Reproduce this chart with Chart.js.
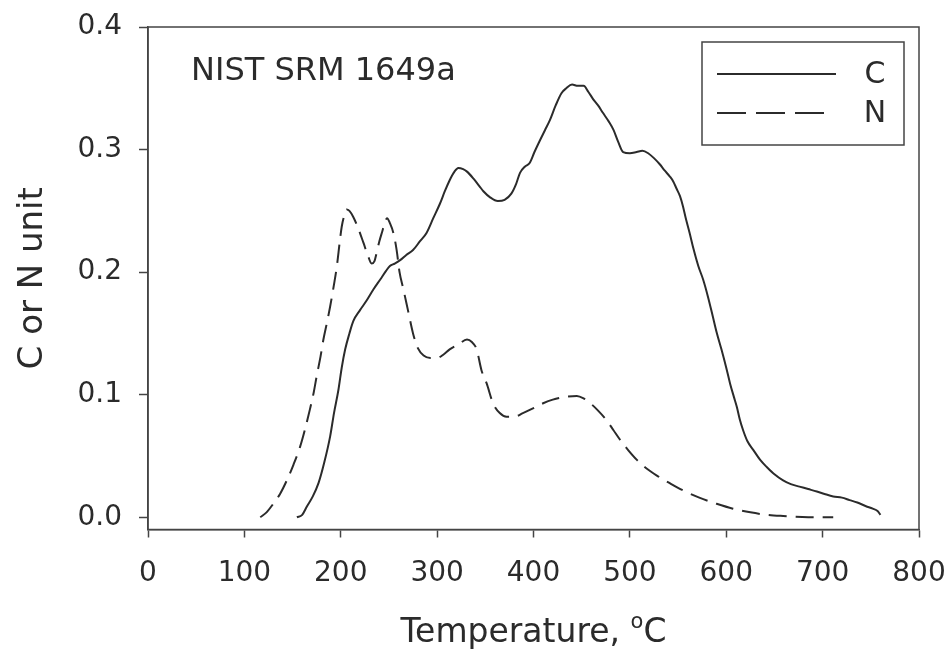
<!DOCTYPE html>
<html>
<head>
<meta charset="utf-8">
<title>NIST SRM 1649a</title>
<script src="https://cdn.jsdelivr.net/npm/chart.js@4.4.1/dist/chart.umd.min.js"></script>
<style>
  body { margin: 0; background: #fff; }
  canvas { display: block; }
</style>
</head>
<body>
<canvas id="thermoChart" width="949" height="654"></canvas>
<script>
// Data
const cTemp = [154.5, 160, 165, 171, 177, 183, 189, 193, 197.6, 201, 204.6, 209, 213, 220, 227, 234, 241, 247, 251, 256,
  262, 268, 275, 282, 289, 296, 303, 308, 313, 318, 322, 327, 331, 338, 344, 348, 355, 363, 370, 377,
  382, 386, 391, 396, 401, 407, 412, 417, 423, 429, 434, 440, 446, 452, 457, 462, 467, 472, 478, 483,
  488, 493, 500, 507, 513, 519, 525, 531, 536, 541.5, 545, 548.5, 552, 555, 558, 562, 566, 571, 576, 581,
  586, 590, 595, 600, 604, 608, 611, 614, 617.5, 622, 628, 635, 642, 650, 659, 667, 676, 685, 694, 702,
  711, 720, 728, 736, 745, 752, 757, 760];
const cVal = [0.000, 0.002, 0.009, 0.017, 0.028, 0.045, 0.066, 0.085, 0.104, 0.122, 0.137, 0.150, 0.160, 0.169, 0.177, 0.186, 0.194, 0.201, 0.205, 0.207,
  0.210, 0.214, 0.218, 0.225, 0.232, 0.244, 0.256, 0.266, 0.275, 0.282, 0.285, 0.284, 0.282, 0.276, 0.270, 0.266, 0.261, 0.258, 0.259, 0.264,
  0.272, 0.281, 0.286, 0.289, 0.298, 0.308, 0.316, 0.324, 0.336, 0.346, 0.350, 0.353, 0.352, 0.352, 0.347, 0.341, 0.336, 0.330, 0.323, 0.316,
  0.306, 0.298, 0.297, 0.298, 0.299, 0.297, 0.293, 0.288, 0.283, 0.278, 0.274, 0.268, 0.262, 0.254, 0.244, 0.232, 0.219, 0.205, 0.194, 0.180,
  0.164, 0.151, 0.137, 0.122, 0.109, 0.098, 0.090, 0.080, 0.071, 0.062, 0.055, 0.047, 0.041, 0.035, 0.030, 0.027, 0.025, 0.023, 0.021, 0.019,
  0.017, 0.016, 0.014, 0.012, 0.009, 0.007, 0.005, 0.002];

const nTemp = [116.5, 123, 130, 137, 144, 151, 158, 163, 168, 172, 175, 179, 182, 186, 189, 193, 196, 199, 201, 204,
  206, 209, 213, 218, 223.5, 228, 232, 235, 237, 240, 243, 246, 248, 251, 254.6, 258, 261, 265, 270, 275,
  280, 286, 293, 300, 307, 313, 322, 331, 336, 341, 346, 351.5, 358, 365, 372, 380, 389, 400, 410, 420,
  431, 445, 452, 459, 467, 476, 483, 490, 498, 507, 517, 528, 541, 555, 572, 590, 607, 625, 642, 659,
  685, 711];
const nVal = [0.000, 0.004, 0.011, 0.019, 0.030, 0.043, 0.058, 0.072, 0.088, 0.102, 0.115, 0.131, 0.145, 0.160, 0.172, 0.190, 0.205, 0.225, 0.237, 0.247,
  0.251, 0.250, 0.245, 0.236, 0.224, 0.214, 0.207, 0.209, 0.215, 0.225, 0.233, 0.241, 0.244, 0.240, 0.232, 0.218, 0.200, 0.186, 0.168, 0.150,
  0.138, 0.132, 0.130, 0.130, 0.133, 0.137, 0.141, 0.145, 0.143, 0.137, 0.120, 0.109, 0.093, 0.085, 0.082, 0.082, 0.085, 0.089, 0.093, 0.096,
  0.098, 0.099, 0.097, 0.093, 0.087, 0.079, 0.071, 0.063, 0.055, 0.047, 0.040, 0.034, 0.028, 0.022, 0.016, 0.011, 0.007, 0.004, 0.002, 0.001,
  0.000, 0.000];

const xTicks = [0, 100, 200, 300, 400, 500, 600, 700, 800];
const yTicks = [0.0, 0.1, 0.2, 0.3, 0.4];
const seriesNames = ['C', 'N'];
const sampleLabel = 'NIST SRM 1649a';

const FONT = '"DejaVu Sans", "Liberation Sans", Arial, sans-serif';
const INK = '#2b2b2b';
const AXIS = '#444';

function toPoints(xs, ys) {
    return xs.map((x, i) => ({x: x, y: ys[i]}));
}

// Frame, sample label, legend box and axis titles
const decorations = {
    id: 'decorations',
    afterDraw(chart) {
        const ctx = chart.ctx;
        const a = chart.chartArea;
        ctx.save();

        // full box around the plot
        ctx.strokeStyle = AXIS;
        ctx.lineWidth = 1.5;
        ctx.strokeRect(a.left, a.top, a.right - a.left, a.bottom - a.top);

        // sample label
        ctx.fillStyle = INK;
        ctx.font = '32px ' + FONT;
        ctx.textAlign = 'left';
        ctx.textBaseline = 'alphabetic';
        ctx.fillText(sampleLabel, a.left + 43, a.top + 53);

        // legend
        const lx = a.right - 217, ly = a.top + 15, lw = 202, lh = 103;
        ctx.strokeStyle = AXIS;
        ctx.lineWidth = 1.5;
        ctx.strokeRect(lx, ly, lw, lh);
        const rows = [ly + 32, ly + 71];
        chart.data.datasets.forEach((ds, i) => {
            ctx.strokeStyle = ds.borderColor;
            ctx.lineWidth = 2;
            ctx.setLineDash(i === 0 ? [] : [29, 10]);
            ctx.beginPath();
            ctx.moveTo(lx + 15, rows[i]);
            ctx.lineTo(lx + (i === 0 ? 134 : 123), rows[i]);
            ctx.stroke();
            ctx.setLineDash([]);
            ctx.fillStyle = INK;
            ctx.font = '30px ' + FONT;
            ctx.textAlign = 'center';
            ctx.textBaseline = 'middle';
            ctx.fillText(ds.label, lx + 173, rows[i] + 1);
        });

        // x axis title with superscript o
        const xt1 = 'Temperature, ', xt2 = 'o', xt3 = 'C';
        ctx.font = '33px ' + FONT;
        const w1 = ctx.measureText(xt1).width, w3 = ctx.measureText(xt3).width;
        ctx.font = '21px ' + FONT;
        const w2 = ctx.measureText(xt2).width;
        let tx = (a.left + a.right) / 2 - (w1 + w2 + w3) / 2;
        const ty = 642;
        ctx.textAlign = 'left';
        ctx.textBaseline = 'alphabetic';
        ctx.font = '33px ' + FONT;
        ctx.fillText(xt1, tx, ty);
        ctx.font = '21px ' + FONT;
        ctx.fillText(xt2, tx + w1, ty - 14);
        ctx.font = '33px ' + FONT;
        ctx.fillText(xt3, tx + w1 + w2, ty);

        // y axis title
        ctx.translate(33, (a.top + a.bottom) / 2);
        ctx.rotate(-Math.PI / 2);
        ctx.textAlign = 'center';
        ctx.textBaseline = 'middle';
        ctx.font = '34px ' + FONT;
        ctx.fillText('C or N unit', 0, 0);
        ctx.restore();
    }
};

const ctx = document.getElementById('thermoChart').getContext('2d');
new Chart(ctx, {
    type: 'line',
    data: {
        datasets: [{
            label: seriesNames[0],
            data: toPoints(cTemp, cVal),
            borderColor: INK,
            borderWidth: 2,
            pointRadius: 0,
            cubicInterpolationMode: 'monotone'
        }, {
            label: seriesNames[1],
            data: toPoints(nTemp, nVal),
            borderColor: INK,
            borderWidth: 2,
            borderDash: [18, 9],
            pointRadius: 0,
            cubicInterpolationMode: 'monotone'
        }]
    },
    options: {
        responsive: false,
        animation: false,
        layout: { padding: { top: 27, right: 30, left: 0, bottom: 0 } },
        plugins: { legend: { display: false }, tooltip: { enabled: false } },
        scales: {
            x: {
                type: 'linear',
                min: 0,
                max: 800,
                afterBuildTicks: axis => { axis.ticks = xTicks.map(v => ({value: v})); },
                afterFit: axis => {
                    axis.height = 124.5;
                    axis.paddingLeft = 0;
                    axis.paddingRight = 0;
                },
                grid: { drawOnChartArea: false, tickLength: 8, tickColor: AXIS, tickWidth: 1.5 },
                border: { color: AXIS, width: 1.5 },
                ticks: { color: INK, font: { family: FONT, size: 28 }, padding: 19, maxRotation: 0 }
            },
            y: {
                min: -0.01,
                max: 0.4,
                afterBuildTicks: axis => { axis.ticks = yTicks.map(v => ({value: v})); },
                afterFit: axis => {
                    axis.width = 148;
                    axis.paddingTop = 0;
                    axis.paddingBottom = 0;
                },
                grid: { drawOnChartArea: false, tickLength: 9, tickColor: AXIS, tickWidth: 1.5 },
                border: { color: AXIS, width: 1.5 },
                ticks: { color: INK, font: { family: FONT, size: 28 }, padding: 17,
                    callback: v => v.toFixed(1) }
            }
        }
    },
    plugins: [decorations]
});
</script>
</body>
</html>
